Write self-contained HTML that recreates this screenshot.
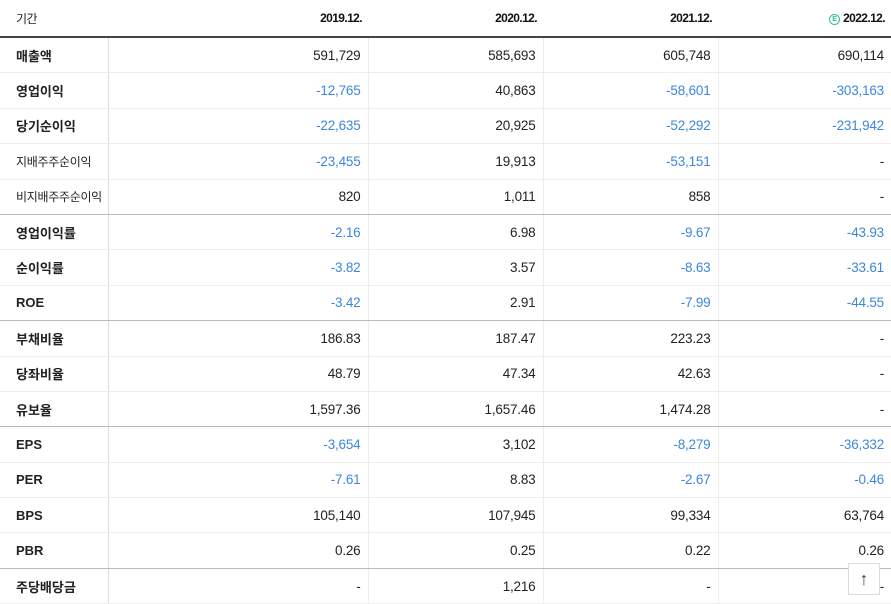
<!DOCTYPE html>
<html><head><meta charset="utf-8">
<style>
body{margin:0;width:891px;height:604px;overflow:hidden;background:#fff;font-family:"Liberation Sans","Noto Sans CJK KR",sans-serif;}
table{border-collapse:collapse;table-layout:fixed;width:891px;position:absolute;top:0;left:0;}
th{height:36px;font-size:12px;font-weight:bold;color:#111;text-align:right;padding:0 6px 0 0;border-bottom:2px solid #444;letter-spacing:-0.6px;white-space:nowrap;}
th.l{text-align:left;padding-left:16px;font-weight:normal;color:#222;}
td{height:34.4px;font-size:13.5px;color:#222;text-align:right;padding:0 7px 0 0;border-bottom:1px solid #eee;border-left:1px solid #ececec;white-space:nowrap;letter-spacing:-0.2px;}
td.l{text-align:left;padding-left:16px;font-weight:bold;border-left:none;border-right:1px solid #ddd;font-size:13px;letter-spacing:0;}
td.s{font-weight:normal;font-size:12px;letter-spacing:-0.3px;}
td.n{color:#3d86de;}
tr.g td{border-bottom:1px solid #bbb;}
.e{display:inline-block;width:9px;height:9px;border:1px solid #2fbf8f;border-radius:50%;color:#2fbf8f;font-size:7px;line-height:9px;text-align:center;vertical-align:1px;margin-right:3px;font-weight:bold;letter-spacing:0;}
#top{position:absolute;left:848px;top:563px;width:30px;height:30px;border:1px solid #ddd;background:#fff;text-align:center;font-size:18px;line-height:30px;color:#444;}
</style></head><body>
<table>
<colgroup><col style="width:108px"><col style="width:260px"><col style="width:175px"><col style="width:175px"><col style="width:173px"></colgroup>
<tr><th class="l">기간</th><th>2019.12.</th><th>2020.12.</th><th>2021.12.</th><th><span class="e">E</span>2022.12.</th></tr>
<tr><td class="l">매출액</td><td>591,729</td><td>585,693</td><td>605,748</td><td>690,114</td></tr>
<tr><td class="l">영업이익</td><td class="n">-12,765</td><td>40,863</td><td class="n">-58,601</td><td class="n">-303,163</td></tr>
<tr><td class="l">당기순이익</td><td class="n">-22,635</td><td>20,925</td><td class="n">-52,292</td><td class="n">-231,942</td></tr>
<tr><td class="l s">지배주주순이익</td><td class="n">-23,455</td><td>19,913</td><td class="n">-53,151</td><td>-</td></tr>
<tr class="g"><td class="l s">비지배주주순이익</td><td>820</td><td>1,011</td><td>858</td><td>-</td></tr>
<tr><td class="l">영업이익률</td><td class="n">-2.16</td><td>6.98</td><td class="n">-9.67</td><td class="n">-43.93</td></tr>
<tr><td class="l">순이익률</td><td class="n">-3.82</td><td>3.57</td><td class="n">-8.63</td><td class="n">-33.61</td></tr>
<tr class="g"><td class="l">ROE</td><td class="n">-3.42</td><td>2.91</td><td class="n">-7.99</td><td class="n">-44.55</td></tr>
<tr><td class="l">부채비율</td><td>186.83</td><td>187.47</td><td>223.23</td><td>-</td></tr>
<tr><td class="l">당좌비율</td><td>48.79</td><td>47.34</td><td>42.63</td><td>-</td></tr>
<tr class="g"><td class="l">유보율</td><td>1,597.36</td><td>1,657.46</td><td>1,474.28</td><td>-</td></tr>
<tr><td class="l">EPS</td><td class="n">-3,654</td><td>3,102</td><td class="n">-8,279</td><td class="n">-36,332</td></tr>
<tr><td class="l">PER</td><td class="n">-7.61</td><td>8.83</td><td class="n">-2.67</td><td class="n">-0.46</td></tr>
<tr><td class="l">BPS</td><td>105,140</td><td>107,945</td><td>99,334</td><td>63,764</td></tr>
<tr class="g"><td class="l">PBR</td><td>0.26</td><td>0.25</td><td>0.22</td><td>0.26</td></tr>
<tr><td class="l">주당배당금</td><td>-</td><td>1,216</td><td>-</td><td>-</td></tr>
</table>
<div id="top">↑</div>
</body></html>
